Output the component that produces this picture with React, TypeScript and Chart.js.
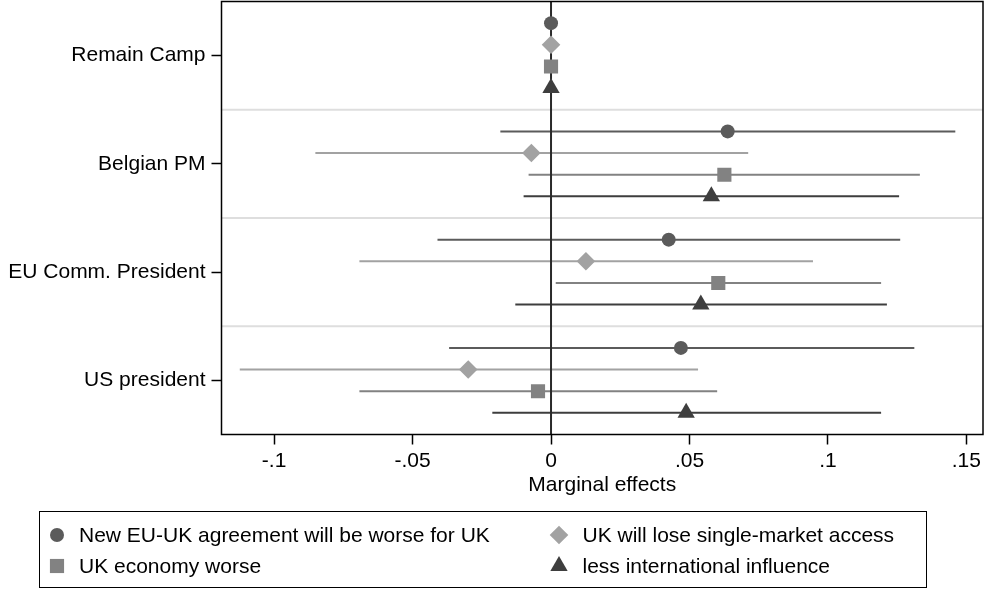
import React, { useEffect, useRef } from 'react';
import { Chart, registerables } from 'chart.js';

Chart.register(...registerables);

// ---------- data ----------
const categories = ['Remain Camp', 'Belgian PM', 'EU Comm. President', 'US president'];
const seriesNames = [
  'New EU-UK agreement will be worse for UK',
  'UK will lose single-market access',
  'UK economy worse',
  'less international influence',
];

const agreementEst = [0, 0.0638, 0.0425, 0.0469];
const agreementLo = [0, -0.0183, -0.041, -0.0368];
const agreementHi = [0, 0.146, 0.1261, 0.1312];

const accessEst = [0, -0.0071, 0.0126, -0.0299];
const accessLo = [0, -0.0851, -0.0692, -0.1124];
const accessHi = [0, 0.0712, 0.0946, 0.0531];

const economyEst = [0, 0.0626, 0.0604, -0.0047];
const economyLo = [0, -0.0081, 0.0017, -0.0692];
const economyHi = [0, 0.1332, 0.1192, 0.06];

const influenceEst = [0, 0.0579, 0.0541, 0.0488];
const influenceLo = [0, -0.0099, -0.0129, -0.0212];
const influenceHi = [0, 0.1257, 0.1213, 0.1192];

const xTicks = [-0.1, -0.05, 0, 0.05, 0.1, 0.15];
const xTickLabels = ['-.1', '-.05', '0', '.05', '.1', '.15'];
const xTitle = 'Marginal effects';

// row layout on the y scale (each group occupies 5 units)
const groupSize = 5;
const categoryRows = categories.map((_, g) => g * groupSize + 2.5);
const separatorRows = [5, 10, 15];

// ---------- styles ----------
const FONT = '"Liberation Sans", Arial, Helvetica, sans-serif';
const FS = 21;
const seriesColors = ['#5b5b5b', '#a2a2a2', '#828282', '#3e3e3e'];
const seriesStyles = ['circle', 'rectRot', 'rect', 'triangle'];
const seriesRadius = [7, 9.3, 10, 10];

const seriesEst = [agreementEst, accessEst, economyEst, influenceEst];
const seriesLo = [agreementLo, accessLo, economyLo, influenceLo];
const seriesHi = [agreementHi, accessHi, economyHi, influenceHi];

function drawMarker(ctx: CanvasRenderingContext2D, style: string, x: number, y: number, r: number, color: string) {
  ctx.save();
  ctx.fillStyle = color;
  ctx.beginPath();
  if (style === 'circle') {
    ctx.arc(x, y, r, 0, Math.PI * 2);
  } else if (style === 'rectRot') {
    ctx.moveTo(x - r, y);
    ctx.lineTo(x, y - r);
    ctx.lineTo(x + r, y);
    ctx.lineTo(x, y + r);
    ctx.closePath();
  } else if (style === 'rect') {
    const s = r * Math.SQRT1_2;
    ctx.rect(x - s, y - s, 2 * s, 2 * s);
  } else {
    ctx.moveTo(x, y - r);
    ctx.lineTo(x + r * 0.866, y + r * 0.5);
    ctx.lineTo(x - r * 0.866, y + r * 0.5);
    ctx.closePath();
  }
  ctx.fill();
  ctx.restore();
}

const decorPlugin = {
  id: 'decor',
  beforeDatasetsDraw(chart: any) {
    const { ctx, chartArea: a, scales } = chart;
    const x = scales.x;
    const y = scales.y;
    ctx.save();
    // group separators
    ctx.strokeStyle = '#dedede';
    ctx.lineWidth = 2;
    separatorRows.forEach((s) => {
      const py = y.getPixelForValue(s);
      ctx.beginPath();
      ctx.moveTo(a.left, py);
      ctx.lineTo(a.right, py);
      ctx.stroke();
    });
    // confidence intervals
    chart.data.datasets.forEach((ds: any, i: number) => {
      ctx.strokeStyle = seriesColors[i];
      ctx.lineWidth = 2;
      ds.data.forEach((p: any) => {
        if (p.hi === p.lo) return;
        const py = y.getPixelForValue(p.y);
        ctx.beginPath();
        ctx.moveTo(x.getPixelForValue(p.lo), py);
        ctx.lineTo(x.getPixelForValue(p.hi), py);
        ctx.stroke();
      });
    });
    // zero reference line
    const px0 = x.getPixelForValue(0);
    ctx.strokeStyle = '#2a2a2a';
    ctx.lineWidth = 2;
    ctx.beginPath();
    ctx.moveTo(px0, a.top);
    ctx.lineTo(px0, a.bottom);
    ctx.stroke();
    ctx.restore();
  },
  afterDatasetsDraw(chart: any) {
    const { ctx, chartArea: a } = chart;
    ctx.save();
    ctx.strokeStyle = '#000';
    ctx.lineWidth = 1.5;
    ctx.strokeRect(a.left, a.top, a.right - a.left, a.bottom - a.top);
    ctx.restore();
  },
  afterDraw(chart: any) {
    const { ctx } = chart;
    ctx.save();
    // legend box
    ctx.strokeStyle = '#000';
    ctx.lineWidth = 1;
    ctx.strokeRect(39.5, 511.5, 887, 76);
    const cols = [57, 559];
    const textX = [79, 582.5];
    const rows = [535, 566];
    // legend order: row1 -> series 0, 1 ; row2 -> series 2, 3
    const order = [
      [0, 0, 0],
      [1, 0, 1],
      [2, 1, 0],
      [3, 1, 1],
    ];
    ctx.font = `${FS}px ${FONT}`;
    ctx.textBaseline = 'middle';
    ctx.textAlign = 'left';
    ctx.fillStyle = '#000';
    order.forEach(([s, r, c]) => {
      drawMarker(ctx, seriesStyles[s], cols[c], rows[r], seriesRadius[s], seriesColors[s]);
      ctx.fillStyle = '#000';
      ctx.fillText(seriesNames[s], textX[c], rows[r] + 1);
    });
    ctx.restore();
  },
};

export default function App() {
  const ref = useRef<HTMLCanvasElement>(null);

  useEffect(() => {
    Chart.defaults.font.family = FONT;
    Chart.defaults.font.size = FS;
    Chart.defaults.color = '#000';

    const datasets = seriesNames.map((name, s) => ({
      label: name,
      data: categories.map((_, g) => ({
        x: seriesEst[s][g],
        y: g * groupSize + s + 1,
        lo: seriesLo[s][g],
        hi: seriesHi[s][g],
      })),
      pointStyle: seriesStyles[s],
      pointRadius: seriesRadius[s],
      pointHoverRadius: seriesRadius[s],
      backgroundColor: seriesColors[s],
      borderColor: seriesColors[s],
      pointBorderWidth: 0,
      showLine: false,
    }));

    const chart = new Chart(ref.current as HTMLCanvasElement, {
      type: 'scatter',
      data: { datasets } as any,
      options: {
        animation: false,
        responsive: true,
        maintainAspectRatio: false,
        layout: { autoPadding: false, padding: { left: 0, right: 2, top: 1.5, bottom: 91.5 } },
        plugins: {
          legend: { display: false },
          tooltip: { enabled: false },
        },
        scales: {
          x: {
            type: 'linear',
            min: -0.119,
            max: 0.156,
            afterBuildTicks: (s: any) => {
              s.ticks = xTicks.map((v) => ({ value: v }));
            },
            ticks: {
              callback: (_v: any, i: number) => xTickLabels[i],
              padding: 4,
              maxRotation: 0,
              autoSkip: false,
              color: '#000',
              font: { family: FONT, size: FS },
            },
            grid: {
              drawOnChartArea: false,
              drawTicks: true,
              tickLength: 10,
              tickWidth: 1.5,
              tickColor: '#000',
            },
            border: { display: false },
            title: {
              display: true,
              text: xTitle,
              padding: 0,
              color: '#000',
              font: { family: FONT, size: FS },
            },
            afterFit: (s: any) => {
              s.height = 63;
              s.paddingLeft = 0;
              s.paddingRight = 0;
            },
          },
          y: {
            type: 'linear',
            reverse: true,
            min: 0,
            max: 20,
            afterBuildTicks: (s: any) => {
              s.ticks = categoryRows.map((v) => ({ value: v }));
            },
            ticks: {
              callback: (_v: any, i: number) => categories[i],
              padding: 6,
              autoSkip: false,
              color: '#000',
              font: { family: FONT, size: FS },
            },
            grid: {
              drawOnChartArea: false,
              drawTicks: true,
              tickLength: 10,
              tickWidth: 1.5,
              tickColor: '#000',
            },
            border: { display: false },
            afterFit: (s: any) => {
              s.width = 221.5;
              s.paddingTop = 0;
              s.paddingBottom = 0;
            },
          },
        },
      } as any,
      plugins: [decorPlugin],
    });
    return () => chart.destroy();
  }, []);

  return (
    <div style={{ position: 'fixed', left: 0, top: 0, width: 985, height: 589, background: '#fff' }}>
      <canvas ref={ref} />
    </div>
  );
}
